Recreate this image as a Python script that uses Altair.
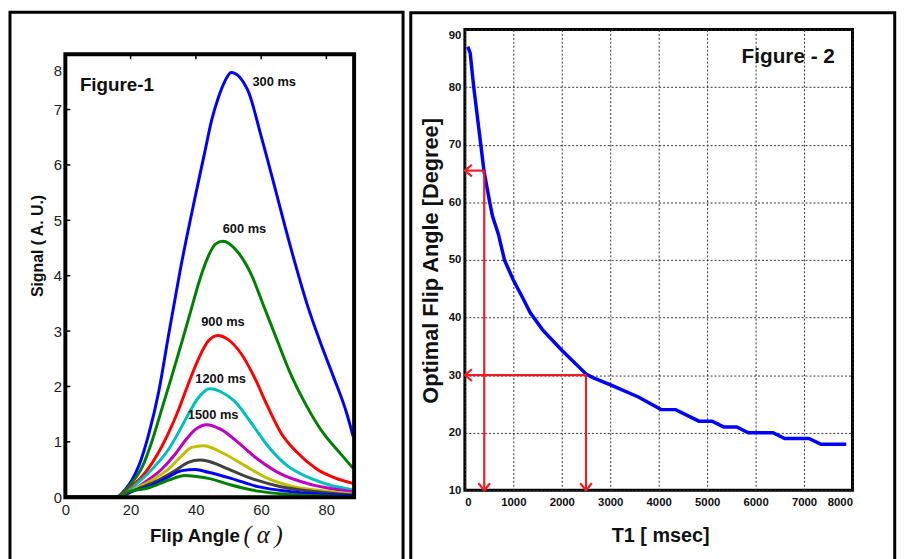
import altair as alt
import pandas as pd

# ---------------- Figure 1 : signal vs flip angle ----------------
series_names = ["300 ms", "600 ms", "900 ms", "1200 ms", "1500 ms",
                "1800 ms", "2100 ms", "2400 ms", "2700 ms"]
series_colors = ["#0000ff", "#008000", "#ff0000", "#00bfbf", "#bf00bf",
                 "#bfbf00", "#404040", "#0000ff", "#008000"]

a300 = [0, 15.5, 18.5, 20.5, 22.6, 25.6, 28.6, 31.7, 35.2, 39.7, 42.8, 44.8, 46.8, 48.8, 50.8, 55.9, 60, 64, 67.5, 71, 74, 78, 82, 86.2, 88.2]
v300 = [0, 0, 0.15, 0.32, 0.58, 1.15, 1.9, 2.95, 4.1, 5.4, 6.25, 6.8, 7.2, 7.5, 7.67, 7.35, 6.52, 5.64, 4.85, 4.1, 3.5, 2.82, 2.2, 1.52, 1.1]
a600 = [0, 15.5, 19.5, 23.6, 26.6, 29.6, 32.7, 35.7, 38.7, 41.3, 43.8, 46, 48.3, 52.5, 57, 61, 65, 69, 74, 79, 84, 88.2]
v600 = [0, 0, 0.2, 0.55, 1.02, 1.6, 2.2, 2.8, 3.42, 3.95, 4.35, 4.57, 4.62, 4.45, 4.02, 3.42, 2.82, 2.23, 1.64, 1.16, 0.81, 0.52]
a900 = [0, 15.5, 20.5, 24.6, 28.6, 31.7, 34.7, 37.7, 40.8, 43.8, 46.8, 49.8, 53.9, 57.9, 62, 66, 71, 77, 83, 88.2]
v900 = [0, 0, 0.2, 0.45, 0.81, 1.17, 1.58, 2.05, 2.5, 2.82, 2.92, 2.85, 2.59, 2.17, 1.64, 1.17, 0.81, 0.51, 0.34, 0.25]
a1200 = [0, 15.5, 22.6, 27.6, 31.7, 34.7, 37.7, 40.8, 44.3, 47.8, 51.9, 57, 62, 68, 74, 81, 88.2]
v1200 = [0, 0, 0.28, 0.57, 0.87, 1.17, 1.5, 1.8, 1.96, 1.9, 1.73, 1.34, 0.93, 0.57, 0.37, 0.22, 0.13]
a1500 = [0, 15.5, 20, 24.6, 29.6, 33.7, 36.7, 39.8, 43.3, 47.8, 52.9, 58.9, 66, 74, 88.2]
v1500 = [0, 0, 0.1, 0.28, 0.51, 0.78, 1.02, 1.22, 1.31, 1.22, 0.99, 0.69, 0.42, 0.25, 0.1]
a1800 = [0, 15.5, 21.6, 26.6, 31.7, 35.7, 38.7, 42.3, 48.8, 55, 62, 70, 80, 88.2]
v1800 = [0, 0, 0.16, 0.31, 0.51, 0.75, 0.9, 0.93, 0.78, 0.57, 0.34, 0.19, 0.11, 0.06]
a2100 = [0, 15.5, 22.6, 28.6, 33.7, 37.7, 41.3, 43.8, 49.8, 57, 66, 77, 88.2]
v2100 = [0, 0, 0.16, 0.31, 0.48, 0.63, 0.67, 0.65, 0.51, 0.34, 0.19, 0.1, 0.04]
a2400 = [0, 15.5, 20.5, 26.6, 31.7, 35.7, 39.8, 43.8, 50.8, 59, 69, 88.2]
v2400 = [0, 0, 0.11, 0.22, 0.37, 0.48, 0.5, 0.45, 0.34, 0.19, 0.1, 0.03]
a2700 = [0, 15.5, 19.5, 25.6, 31.7, 36.7, 41.8, 43.8, 50.8, 59, 69, 88.2]
v2700 = [0, 0, 0.1, 0.17, 0.31, 0.39, 0.36, 0.34, 0.22, 0.11, 0.05, 0.01]

curve_angles = [a300, a600, a900, a1200, a1500, a1800, a2100, a2400, a2700]
curve_values = [v300, v600, v900, v1200, v1500, v1800, v2100, v2400, v2700]

label_text = ["300 ms", "600 ms", "900 ms", "1200 ms", "1500 ms"]
label_angle = [64.0, 54.9, 48.3, 47.6, 45.3]
label_value = [7.49, 4.85, 3.16, 2.14, 1.49]

fig1_x_ticks = [0, 20, 40, 60, 80]
fig1_y_ticks = [0, 1, 2, 3, 4, 5, 6, 7, 8]

# ---------------- Figure 2 : optimal flip angle vs T1 ----------------
t1_ms = [60, 110, 180, 330, 395, 515, 570, 690, 820, 1000, 1200, 1350, 1600, 2000,
         2500, 2630, 3030, 3580, 4050, 4350, 4830, 5100, 5340, 5610, 5850, 6360,
         6600, 7100, 7350, 7870]
opt_angle = [87.0, 85.9, 80.2, 69.9, 65.4, 59.9, 57.6, 54.5, 49.9, 46.5, 43.3, 40.8,
             37.9, 34.3, 30.2, 29.6, 28.2, 26.2, 24.0, 24.0, 22.0, 22.0, 21.0, 21.0,
             20.0, 20.0, 19.0, 19.0, 18.0, 18.0]
arrow_t1 = [400, 2500]
arrow_deg = [65.5, 30]

fig2_x_ticks = [0, 1000, 2000, 3000, 4000, 5000, 6000, 7000, 8000]
fig2_y_ticks = [10, 20, 30, 40, 50, 60, 70, 80, 90]

FONT = "Liberation Sans"
one = pd.DataFrame({"k": [0]})

# ================= left panel =================
H1, H1_BOX = 473, 448
Y1_TOP = 8 * H1 / H1_BOX
X1_MAX = 88.5

rows = []
for name, aa, vv in zip(series_names, curve_angles, curve_values):
    for a, v in zip(aa, vv):
        rows.append({"series": name, "angle": a, "signal": v})
df1 = pd.DataFrame(rows)

xs1 = alt.Scale(domain=[0, X1_MAX], nice=False, zero=False)
ys1 = alt.Scale(domain=[0, Y1_TOP], nice=False)

x1 = alt.X("angle:Q", scale=xs1,
           axis=alt.Axis(values=fig1_x_ticks, format="d", title=None, grid=False, domain=False, ticks=False,
                         labelFontSize=15, labelFont=FONT, labelColor="#222", labelPadding=6,
                         labelFlush=False))
y1 = alt.Y("signal:Q", scale=ys1,
           axis=alt.Axis(values=fig1_y_ticks, format="d", title=None, grid=False, domain=False, ticks=False,
                         labelFontSize=15, labelFont=FONT, labelColor="#222", labelPadding=4,
                         labelOffset={"condition": {"test": "datum.value === 8", "value": 17}, "value": 0}))

box1 = alt.Chart(one).mark_rect(fillOpacity=0, stroke="black", strokeWidth=4).encode(
    x=alt.datum(0, scale=xs1), x2=alt.datum(X1_MAX), y=alt.datum(0, scale=ys1), y2=alt.datum(8))

curves = alt.Chart(df1).mark_line(strokeWidth=3, interpolate="monotone").encode(
    x=x1, y=y1,
    color=alt.Color("series:N", scale=alt.Scale(domain=series_names, range=series_colors),
                    sort=series_names, legend=None),
)

df_lab = pd.DataFrame({"t": label_text, "a": label_angle, "v": label_value})
labels1 = alt.Chart(df_lab).mark_text(font=FONT, fontSize=13, fontWeight="bold", color="#111").encode(
    x=alt.X("a:Q", scale=xs1), y=alt.Y("v:Q", scale=ys1), text="t:N")

fig1_title = alt.Chart(pd.DataFrame({"t": ["Figure-1"], "a": [15.8], "v": [7.44]})).mark_text(
    font=FONT, fontSize=19, fontWeight="bold", color="#111").encode(
    x=alt.X("a:Q", scale=xs1), y=alt.Y("v:Q", scale=ys1), text="t:N")

tick_len = 5 * 8 / H1_BOX
top_ticks = alt.Chart(pd.DataFrame({"a": fig1_x_ticks[1:]})).mark_rule(color="black", strokeWidth=1.5).encode(
    x=alt.X("a:Q", scale=xs1), y=alt.datum(8, scale=ys1), y2=alt.datum(8 - tick_len))
left_ticks = alt.Chart(pd.DataFrame({"v": fig1_y_ticks[1:-1]})).mark_rule(color="black", strokeWidth=1.5).encode(
    y=alt.Y("v:Q", scale=ys1), x=alt.value(0), x2=alt.value(5))

ytitle1 = alt.Chart(pd.DataFrame({"t": ["Signal ( A. U.)"]})).mark_text(
    font=FONT, fontSize=16, fontWeight="bold", angle=270, baseline="middle", align="center", color="#111").encode(
    x=alt.value(-28), y=alt.value(219), text="t:N")
xtitle1a = alt.Chart(pd.DataFrame({"t": ["Flip Angle"]})).mark_text(
    font=FONT, fontSize=19, fontWeight="bold", baseline="alphabetic", align="center", color="#111").encode(
    x=alt.value(131), y=alt.value(518), text="t:N")
xtitle1b = alt.Chart(pd.DataFrame({"t": ["(\u2009\u03b1\u2009)"]})).mark_text(
    font="Liberation Serif", fontSize=25, fontStyle="italic", baseline="alphabetic", align="center", color="#111").encode(
    x=alt.value(200), y=alt.value(519), text="t:N")

frame1 = alt.Chart(one).mark_rect(fillOpacity=0, stroke="black", strokeWidth=3).encode(
    x=alt.value(-56), x2=alt.value(341.5), y=alt.value(-17.5), y2=alt.value(548))

left = alt.layer(frame1, curves, box1, top_ticks, left_ticks, labels1, fig1_title,
                 ytitle1, xtitle1a, xtitle1b).properties(
    width=292, height=H1,
    view=alt.ViewBackground(stroke="transparent", strokeWidth=0))

# ================= right panel =================
df2 = pd.DataFrame({"t1": t1_ms, "deg": opt_angle})
xs2 = alt.Scale(domain=[0, 8000], nice=False)
ys2 = alt.Scale(domain=[10, 90], nice=False, zero=False)

x2 = alt.X("t1:Q", scale=xs2,
           axis=alt.Axis(values=fig2_x_ticks, format="d", title=None, grid=True, gridColor="#333",
                         gridDash=[2, 2], gridWidth=1, domain=False, ticks=False, labelFontSize=11.5,
                         labelFont=FONT, labelFontWeight="bold", labelColor="#111", labelPadding=6,
                         labelFlush=True))
y2 = alt.Y("deg:Q", scale=ys2,
           axis=alt.Axis(values=fig2_y_ticks, format="d", title=None, grid=True, gridColor="#333",
                         gridDash=[2, 2], gridWidth=1, domain=False, ticks=False, labelFontSize=11.5,
                         labelFont=FONT, labelFontWeight="bold", labelColor="#111", labelPadding=4,
                         labelOffset={"condition": {"test": "datum.value === 90", "value": 6}, "value": 0}))

line2 = alt.Chart(df2).mark_line(color="#0000ff", strokeWidth=3.5).encode(x=x2, y=y2)

df_arr = pd.DataFrame({"t1": arrow_t1, "deg": arrow_deg})
RED = "#ee1c25"
h_rules = alt.Chart(df_arr).mark_rule(color=RED, strokeWidth=2.2).encode(
    x=alt.X("t1:Q", scale=xs2), x2=alt.datum(0), y=alt.Y("deg:Q", scale=ys2))
v_rules = alt.Chart(df_arr).mark_rule(color=RED, strokeWidth=2.2).encode(
    x=alt.X("t1:Q", scale=xs2), y=alt.Y("deg:Q", scale=ys2), y2=alt.datum(10))
heads_left = alt.Chart(df_arr).mark_point(shape="M1.2,-1L0,0L1.2,1", filled=False, color=RED,
                                          strokeWidth=2.2, size=140, opacity=1).encode(
    x=alt.datum(0), y=alt.Y("deg:Q", scale=ys2))
heads_down = alt.Chart(df_arr).mark_point(shape="M-1,-1.2L0,0L1,-1.2", filled=False, color=RED,
                                          strokeWidth=2.2, size=140, opacity=1).encode(
    x=alt.X("t1:Q", scale=xs2), y=alt.datum(10))

fig2_title = alt.Chart(pd.DataFrame({"t": ["Figure - 2"], "x": [6673], "y": [85.2]})).mark_text(
    font=FONT, fontSize=21, fontWeight="bold", color="#111").encode(
    x=alt.X("x:Q", scale=xs2), y=alt.Y("y:Q", scale=ys2), text="t:N")

ytitle2 = alt.Chart(pd.DataFrame({"t": ["Optimal Flip Angle  [Degree]"]})).mark_text(
    font=FONT, fontSize=22, fontWeight="bold", angle=270, baseline="middle", align="center", color="#111").encode(
    x=alt.value(-34), y=alt.value(234), text="t:N")
xtitle2 = alt.Chart(pd.DataFrame({"t": ["T1 [ msec]"]})).mark_text(
    font=FONT, fontSize=20, fontWeight="bold", baseline="alphabetic", align="center", color="#111").encode(
    x=alt.value(198), y=alt.value(518), text="t:N")

frame2 = alt.Chart(one).mark_rect(fillOpacity=0, stroke="black", strokeWidth=3).encode(
    x=alt.value(-54.7), x2=alt.value(434.7), y=alt.value(-17), y2=alt.value(548))

right = alt.layer(frame2, line2, h_rules, v_rules, heads_left, heads_down, fig2_title,
                  ytitle2, xtitle2).properties(
    width=392, height=466,
    view=alt.ViewBackground(stroke="black", strokeWidth=3))

chart = alt.hconcat(left, right, spacing=3).properties(
    padding={"top": -1.5, "left": 0, "right": 0, "bottom": 0}, background="white").resolve_scale(
    x="independent", y="independent", color="independent")

chart.save("out.html", embed_options={"renderer": "svg", "actions": False})
